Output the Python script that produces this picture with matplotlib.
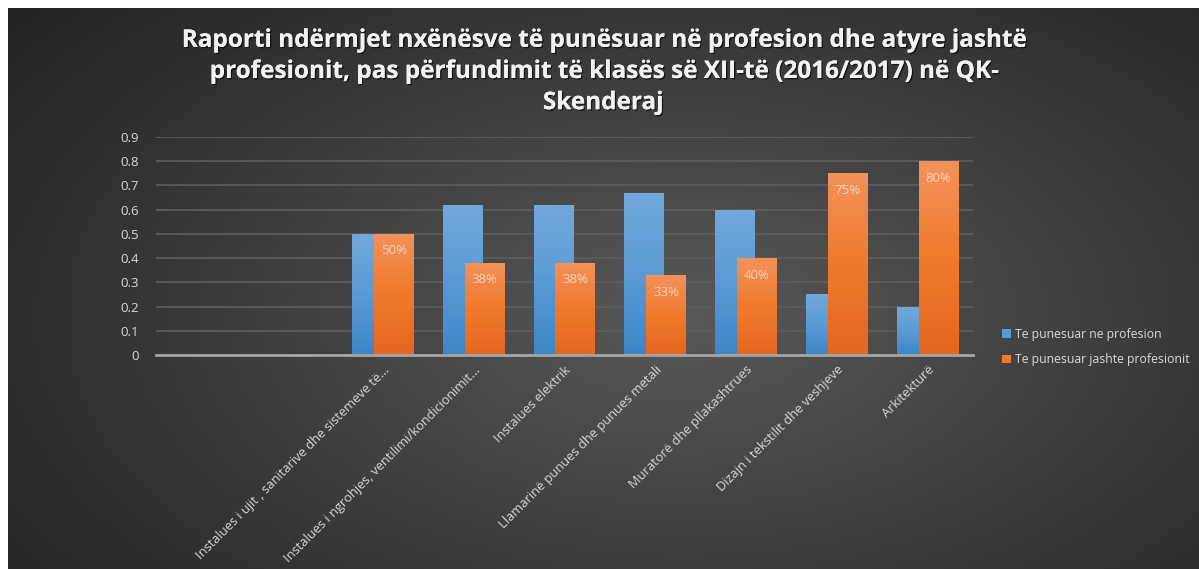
import numpy as np
import matplotlib
matplotlib.use('Agg')
import matplotlib.pyplot as plt
import matplotlib.patheffects as pe
from matplotlib.colors import LinearSegmentedColormap
from matplotlib.patches import Patch

# ─── Data ─────────────────────────────────────────────────────────
categories = [
    "",
    "",
    "Instalues i ujit , sanitarive dhe sistemeve të...",
    "Instalues i ngrohjes, ventilimi/kondicionimit...",
    "Instalues elektrik",
    "Llamarinë punues dhe punues metali",
    "Muratorë dhe pllakashtrues",
    "Dizajn i tekstilit dhe veshjeve",
    "Arkitekturë",
]
in_profession = [np.nan, np.nan, 0.50, 0.62, 0.62, 0.67, 0.60, 0.25, 0.20]
outside_profession = [np.nan, np.nan, 0.50, 0.38, 0.38, 0.33, 0.40, 0.75, 0.80]
outside_labels = ["", "", "50%", "38%", "38%", "33%", "40%", "75%", "80%"]
series_names = ["Te punesuar ne profesion", "Te punesuar jashte profesionit"]
yticks = [0, 0.1, 0.2, 0.3, 0.4, 0.5, 0.6, 0.7, 0.8, 0.9]

title = ("Raporti ndërmjet nxënësve të punësuar në profesion dhe atyre jashtë\n"
         "profesionit, pas përfundimit të klasës së XII-të (2016/2017) në QK-\n"
         "Skenderaj")

FONT = "Open Sans"
TXT = "#d9d9d9"

blue_cmap = LinearSegmentedColormap.from_list("b", ["#3d86c6", "#5b9bd5", "#72a9dd"])
orange_cmap = LinearSegmentedColormap.from_list("o", ["#e3671f", "#f07a2b", "#f3925b"])

W, H = 1199, 569
fig = plt.figure(figsize=(W / 100, H / 100), dpi=100)
fig.patch.set_facecolor("white")

# ─── Background (radial gradient) ─────────────────────────────────
bg = fig.add_axes([8 / W, 0, 1 - 8 / W, 1 - 8 / H])
bg.set_axis_off()
yy, xx = np.mgrid[0:300, 0:600]
cx, cy = 340, 165
r = np.sqrt(((xx - cx) / 540.0) ** 2 + ((yy - cy) / 320.0) ** 2)
r = np.clip(r, 0, 1)
bg_cmap = LinearSegmentedColormap.from_list("bg", ["#595959", "#3d3d3d", "#222222"])
bg.imshow(r, cmap=bg_cmap, aspect="auto", interpolation="bilinear")

# ─── Main axes ────────────────────────────────────────────────────
ax = fig.add_axes([156 / W, 1 - 355 / H, (973 - 156) / W, (355 - 137) / H])
ax.patch.set_alpha(0)

x = np.arange(len(categories))
bw = 0.44
off = 0.12


def gradient_bars(xpos, vals, cmap, z):
    bars = ax.bar(xpos, vals, width=bw, color="none", edgecolor="none", zorder=z)
    grad = np.linspace(0, 1, 256).reshape(-1, 1)
    for b in bars:
        h = b.get_height()
        if not np.isfinite(h) or h <= 0:
            continue
        x0 = b.get_x()
        im = ax.imshow(grad, cmap=cmap, origin="lower", aspect="auto",
                       extent=[x0, x0 + bw, 0, h], zorder=z)
        im.set_clip_path(b)
    return bars


gradient_bars(x - off, in_profession, blue_cmap, 3)
obars = gradient_bars(x + off, outside_profession, orange_cmap, 4)

for b, lab in zip(obars, outside_labels):
    h = b.get_height()
    if lab and np.isfinite(h):
        ax.text(b.get_x() + bw / 2, h - 0.07, lab, ha="center", va="center",
                fontsize=9.5, color="#f8d4bd", family=FONT, zorder=5)

ax.set_xlim(-0.5, len(categories) - 0.5)
ax.set_ylim(0, 0.9)
ax.set_yticks(yticks)
ax.set_yticklabels([f"{t:g}" for t in yticks], fontsize=9.5, color=TXT, family=FONT)
ax.set_xticks(x)
ax.set_xticklabels(categories, rotation=45, ha="right", rotation_mode="anchor",
                   fontsize=9.3, color=TXT, family=FONT)
ax.tick_params(axis="both", length=0)
ax.tick_params(axis="y", pad=12)
ax.tick_params(axis="x", pad=6)
ax.grid(axis="y", color="#5e5e5e", lw=1.2, zorder=0)
for s in ["top", "right", "left"]:
    ax.spines[s].set_visible(False)
ax.spines["bottom"].set_color("#a6a6a6")
ax.spines["bottom"].set_linewidth(2)
ax.spines["bottom"].set_zorder(6)

# ─── Title ────────────────────────────────────────────────────────
fig.text(0.503, 1 - 72 / H, title, ha="center", va="center", fontsize=17.5,
         fontweight="bold", color="#f2f2f2", family=FONT, linespacing=1.4,
         path_effects=[pe.withSimplePatchShadow(offset=(1, -1), shadow_rgbFace="black", alpha=0.6),
                       pe.Normal()])

# ─── Legend ───────────────────────────────────────────────────────
handles = [Patch(facecolor="#5b9bd5"), Patch(facecolor="#f07a2b")]
fig.legend(handles, series_names, loc="center left",
           bbox_to_anchor=(991 / W, 1 - 347 / H), frameon=False,
           prop={"family": FONT, "size": 8.8}, labelcolor=TXT,
           handlelength=0.7, handleheight=0.7, handletextpad=0.4,
           labelspacing=1.05)

fig.savefig("out.png", dpi=100, facecolor=fig.get_facecolor())
